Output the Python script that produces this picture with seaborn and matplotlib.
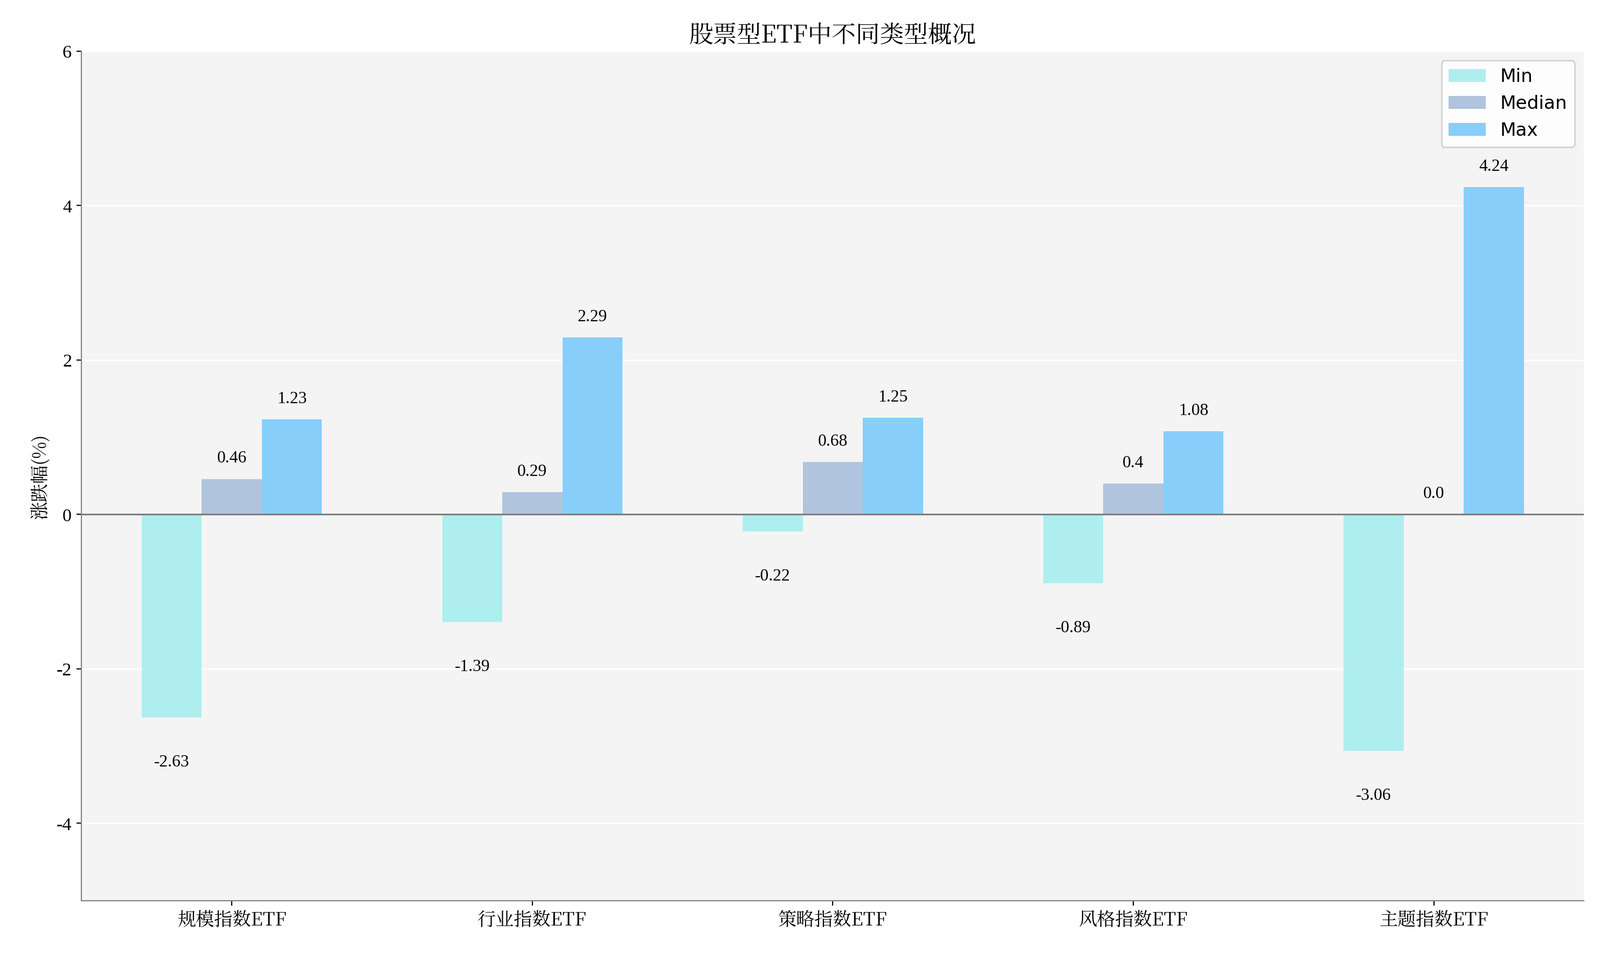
import matplotlib

matplotlib.use("Agg", force=True)
import matplotlib.pyplot as plt
from matplotlib import font_manager
import pandas as pd
import seaborn as sns

categories = ["规模指数ETF", "行业指数ETF", "策略指数ETF", "风格指数ETF", "主题指数ETF"]
min_vals = [-2.63, -1.39, -0.22, -0.89, -3.06]
median_vals = [0.46, 0.29, 0.68, 0.4, 0.0]
max_vals = [1.23, 2.29, 1.25, 1.08, 4.24]
series = ["Min", "Median", "Max"]
colors = ["#afeeee", "#b0c4de", "#87cefa"]

df = pd.DataFrame({"category": categories, "Min": min_vals, "Median": median_vals, "Max": max_vals})
long = df.melt(id_vars="category", value_vars=series, var_name="stat", value_name="value")

# find a CJK font actually registered with matplotlib
cjk = None
for f in font_manager.fontManager.ttflist:
    if "CJK" in f.name and ("SC" in f.name or cjk is None):
        cjk = f.name
        if "SC" in f.name:
            break
if cjk is None:
    for path in font_manager.findSystemFonts():
        if "CJK" in path:
            font_manager.fontManager.addfont(path)
            cjk = font_manager.FontProperties(fname=path).get_name()
            break
cjk = cjk or "DejaVu Sans"
plt.rcParams["font.family"] = [cjk, "DejaVu Sans"]
plt.rcParams["axes.unicode_minus"] = False

fig, ax = plt.subplots(figsize=(15.68, 9.34), dpi=189.35)
fig.subplots_adjust(left=0.051, right=0.99, top=0.946, bottom=0.055)
ax.set_facecolor("#f4f4f4")
ax.grid(axis="y", color="white", linewidth=1)
ax.set_axisbelow(True)

sns.barplot(data=long, x="category", y="value", hue="stat", hue_order=series,
            palette=colors, width=0.6, gap=0, ax=ax, saturation=1)

for container in ax.containers:
    vals = container.datavalues
    pos = [str(v) if v >= 0 else "" for v in vals]
    neg = [str(v) if v < 0 else "" for v in vals]
    ax.bar_label(container, labels=pos, padding=9, fontsize=12, family="Liberation Serif")
    ax.bar_label(container, labels=neg, padding=26, fontsize=12, family="Liberation Serif")

ax.axhline(0, color="gray", linewidth=1.2)
ax.set_ylim(-5, 6)
ax.set_yticks([-4, -2, 0, 2, 4, 6])
ax.set_yticklabels(["-4", "-2", "0", "2", "4", "6"], family="Liberation Serif", fontsize=13)
ax.tick_params(axis="x", labelsize=13)
ax.set_xlabel("")
ax.set_ylabel("涨跌幅(%)", fontsize=13)
ax.set_title("股票型ETF中不同类型概况", fontsize=17)
for s in ["top", "right"]:
    ax.spines[s].set_visible(False)
for s in ["left", "bottom"]:
    ax.spines[s].set_color("gray")
ax.legend(loc="upper right", fontsize=13, facecolor="white", framealpha=0.9,
          prop={"family": "DejaVu Sans", "size": 13})

fig.savefig("out.png")
